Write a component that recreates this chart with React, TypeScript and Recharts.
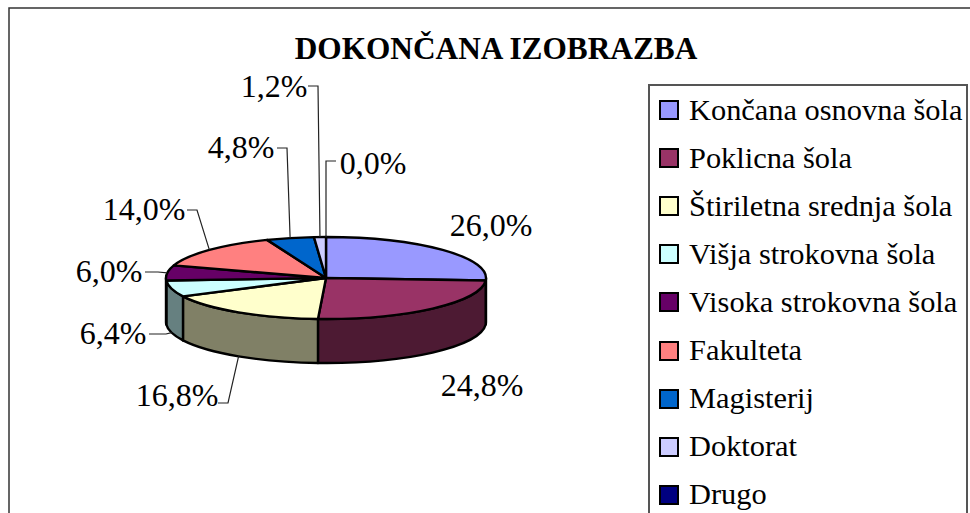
import { Legend, Pie, PieChart } from "recharts"

const categories = [
    "Končana osnovna šola",
    "Poklicna šola",
    "Štiriletna srednja šola",
    "Višja strokovna šola",
    "Visoka strokovna šola",
    "Fakulteta",
    "Magisterij",
    "Doktorat",
    "Drugo",
]
const shares = [26.0, 24.8, 16.8, 6.4, 6.0, 14.0, 4.8, 1.2, 0.0]
const fills = ["#9999FF", "#993366", "#FFFFCC", "#CCFFFF", "#660066", "#FF8080", "#0066CC", "#CCCCFF", "#000080"]
const sideFills = ["#4D4D80", "#4D1A33", "#808066", "#668080", "#330033", "#804040", "#003366", "#666680", "#000040"]

const data = categories.map((name, i) => ({ name, value: shares[i], fill: fills[i], side: sideFills[i] }))

const SERIF = '"Liberation Serif", serif'
const SQUASH = 41 / 160 // ellipse ratio of the tilted pie
const DEPTH = 44

// where each percent text sits, and the elbow of its leader line (null = no leader)
const labelSpots = [
    { x: 491, y: 225, elbow: null },
    { x: 482, y: 385, elbow: null },
    { x: 177, y: 395, elbow: { from: [218, 403], at: [228, 403] } },
    { x: 113, y: 333, elbow: { from: [149, 334], at: [166, 334] } },
    { x: 109, y: 271, elbow: { from: [145, 272], at: [158, 272] } },
    { x: 144, y: 209, elbow: { from: [187, 210], at: [197, 210] } },
    { x: 241, y: 147, elbow: { from: [277, 148], at: [287, 148] } },
    { x: 274, y: 86, elbow: { from: [308, 86], at: [318, 86] } },
    { x: 373, y: 163, elbow: { from: [336, 161], at: [326, 161] } },
]

function TiltedSector(props: any) {
    const { cx, cy, outerRadius: r, startAngle, endAngle, fill, payload } = props
    if (startAngle === endAngle) return null
    const ry = r * SQUASH
    const px = (a: number) => cx + r * Math.cos((a * Math.PI) / 180)
    const py = (a: number) => cy - ry * Math.sin((a * Math.PI) / 180)
    const large = Math.abs(startAngle - endAngle) > 180 ? 1 : 0
    const wallFrom = Math.min(startAngle, 0)
    const wallTo = Math.max(endAngle, -180)
    return (
        <g>
            {wallFrom > wallTo && (
                <path
                    d={`M${px(wallFrom)},${py(wallFrom)} A${r},${ry} 0 0 1 ${px(wallTo)},${py(wallTo)} v${DEPTH} A${r},${ry} 0 0 0 ${px(wallFrom)},${py(wallFrom) + DEPTH} Z`}
                    fill={payload.side}
                    stroke="#000"
                    strokeWidth={2.4}
                    strokeLinejoin="round"
                />
            )}
            <path
                d={`M${cx},${cy} L${px(startAngle)},${py(startAngle)} A${r},${ry} 0 ${large} 1 ${px(endAngle)},${py(endAngle)} Z`}
                fill={fill}
                stroke="#000"
                strokeWidth={2.4}
                strokeLinejoin="round"
            />
        </g>
    )
}

function PercentLabel(props: any) {
    const { cx, cy, outerRadius: r, midAngle, index, value } = props
    const spot = labelSpots[index]
    const rim = (midAngle * Math.PI) / 180
    const rimX = cx + r * Math.cos(rim)
    let rimY = cy - r * SQUASH * Math.sin(rim)
    if (Math.sin(rim) < 0) rimY += DEPTH
    return (
        <g>
            {spot.elbow && (
                <polyline
                    points={`${spot.elbow.from} ${spot.elbow.at} ${rimX},${rimY}`}
                    fill="none"
                    stroke="#222"
                    strokeWidth={1.2}
                />
            )}
            <text x={spot.x} y={spot.y} textAnchor="middle" dominantBaseline="central" fontFamily={SERIF} fontSize={32} fill="#000">
                {value.toFixed(1).replace(".", ",")}%
            </text>
        </g>
    )
}

function LegendBox({ payload }: any) {
    return (
        <div style={{ position: "relative", width: 320, height: 440, border: "2px solid #555", boxSizing: "border-box", fontFamily: SERIF, fontSize: 30.4, color: "#000" }}>
            {(payload || []).map((item: any, i: number) => (
                <div key={item.value} style={{ position: "absolute", left: 9, top: 0 + i * 48.1, height: 48, display: "flex", alignItems: "center", whiteSpace: "nowrap" }}>
                    <span style={{ width: 16, height: 16, background: item.color, border: "2px solid #000", marginRight: 10 }} />
                    {item.value}
                </div>
            ))}
        </div>
    )
}

export default function App() {
    return (
        <div style={{ position: "absolute", left: 0, top: 0, width: 970, height: 513, overflow: "hidden", background: "#fff" }}>
            <PieChart width={970} height={513} margin={{ top: 0, right: 0, bottom: 0, left: 0 }}>
                <rect x={9} y={8} width={1000} height={600} fill="none" stroke="#333" strokeWidth={1.5} />
                <text x={496} y={48.5} textAnchor="middle" dominantBaseline="central" fontFamily={SERIF} fontWeight="bold" fontSize={31.3} fill="#000">
                    DOKONČANA IZOBRAZBA
                </text>
                <Pie
                    data={data}
                    dataKey="value"
                    nameKey="name"
                    cx={326}
                    cy={278}
                    outerRadius={160}
                    startAngle={90}
                    endAngle={-270}
                    shape={TiltedSector}
                    label={PercentLabel}
                    labelLine={false}
                    isAnimationActive={false}
                />
                <Legend content={LegendBox} itemSorter={null} layout="vertical" wrapperStyle={{ position: "absolute", left: 648, top: 84, width: 320 }} />
            </PieChart>
        </div>
    )
}
